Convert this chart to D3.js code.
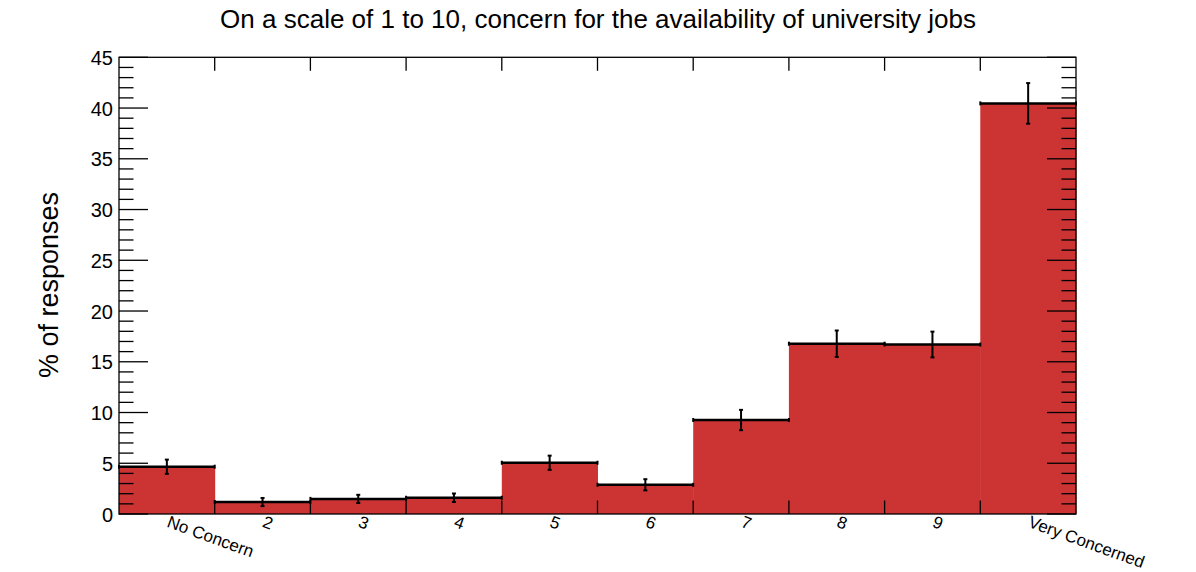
<!DOCTYPE html>
<html><head><meta charset="utf-8">
<script src="https://cdn.jsdelivr.net/npm/d3@7"></script>
<style>body{margin:0;background:#fff}svg{display:block}text{font-family:"Liberation Sans",Arial,sans-serif}</style>
</head><body>
<svg id="c" width="1196" height="572"></svg>
<script>
const categories = ["No Concern","2","3","4","5","6","7","8","9","Very Concerned"];
const values = [4.66, 1.18, 1.49, 1.60, 5.05, 2.88, 9.26, 16.78, 16.70, 40.46];
const errors = [0.70, 0.40, 0.40, 0.42, 0.70, 0.55, 1.00, 1.30, 1.27, 2.00];
const yTicks = [0,5,10,15,20,25,30,35,40,45];
const title = "On a scale of 1 to 10, concern for the availability of university jobs";
const yLabel = "% of responses";

const svg = d3.select("#c");
const L=119, R=1076, T=57.3, B=514;
const x = d3.scaleBand().domain(categories).range([L,R]).padding(0);
const y = d3.scaleLinear().domain([0,45]).range([B,T]);
const red = "#cc3333";

// bars
svg.append("g").selectAll("rect").data(categories).join("rect")
  .attr("x", d=>x(d)).attr("width", x.bandwidth()+0.5)
  .attr("y", (d,i)=>y(values[i])).attr("height",(d,i)=>B-y(values[i]))
  .attr("fill", red);

// horizontal error lines (bin tops)
const eg = svg.append("g").attr("stroke","#000").attr("stroke-width",2.5);
categories.forEach((c,i)=>{
  const x0=x(c), x1=x(c)+x.bandwidth(), yy=y(values[i]), xc=x0+x.bandwidth()/2;
  eg.append("line").attr("x1",x0).attr("x2",x1).attr("y1",yy).attr("y2",yy);
  eg.append("line").attr("x1",x0).attr("x2",x0).attr("y1",yy-2).attr("y2",yy+2).attr("stroke-width",2);
  eg.append("line").attr("x1",x1).attr("x2",x1).attr("y1",yy-2).attr("y2",yy+2).attr("stroke-width",2);
  eg.append("line").attr("x1",xc).attr("x2",xc).attr("y1",y(values[i]+errors[i])).attr("y2",y(values[i]-errors[i])).attr("stroke-width",2);
  eg.append("line").attr("x1",xc-2).attr("x2",xc+2).attr("y1",y(values[i]+errors[i])).attr("y2",y(values[i]+errors[i])).attr("stroke-width",2);
  eg.append("line").attr("x1",xc-2).attr("x2",xc+2).attr("y1",y(values[i]-errors[i])).attr("y2",y(values[i]-errors[i])).attr("stroke-width",2);
});

// frame
svg.append("rect").attr("x",L).attr("y",T).attr("width",R-L).attr("height",B-T)
  .attr("fill","none").attr("stroke","#000").attr("stroke-width",1.3);

// y ticks (left & right) with minor ticks
const minor = d3.range(0,45.01,1);
const tg = svg.append("g").attr("stroke","#000").attr("stroke-width",1.3);
minor.forEach(v=>{
  const len = (v%5===0)?29:14.5;
  tg.append("line").attr("x1",L).attr("x2",L+len).attr("y1",y(v)).attr("y2",y(v));
  tg.append("line").attr("x1",R).attr("x2",R-len).attr("y1",y(v)).attr("y2",y(v));
});
// x ticks at bin edges (bottom & top)
categories.slice(1).forEach(c=>{
  const xx = x(c);
  tg.append("line").attr("x1",xx).attr("x2",xx).attr("y1",B).attr("y2",B-13.5);
  tg.append("line").attr("x1",xx).attr("x2",xx).attr("y1",T).attr("y2",T+13.5);
});

// y axis labels
const yAxis = d3.axisLeft(y).tickValues(yTicks).tickSize(0).tickPadding(0);
const ya = svg.append("g").attr("transform",`translate(${L-6},0)`).call(yAxis);
ya.select(".domain").remove();
ya.selectAll("text").attr("font-size",20).attr("fill","#000").attr("font-family","Liberation Sans, Arial, sans-serif").attr("dy","0.36em");

// x labels rotated
svg.append("g").selectAll("text").data(categories).join("text")
  .attr("transform", d=>`translate(${x(d)+x.bandwidth()/2+4},${B-1}) rotate(20)`)
  .attr("dy","0.85em").attr("font-size",17).attr("text-anchor","start")
  .text(d=>d);

// title
svg.append("text").attr("x",598).attr("y",28).attr("text-anchor","middle")
  .attr("font-size",26).text(title);
// y label
svg.append("text").attr("transform","translate(58,285) rotate(-90)").attr("text-anchor","middle")
  .attr("font-size",27).text(yLabel);
</script>
</body></html>
